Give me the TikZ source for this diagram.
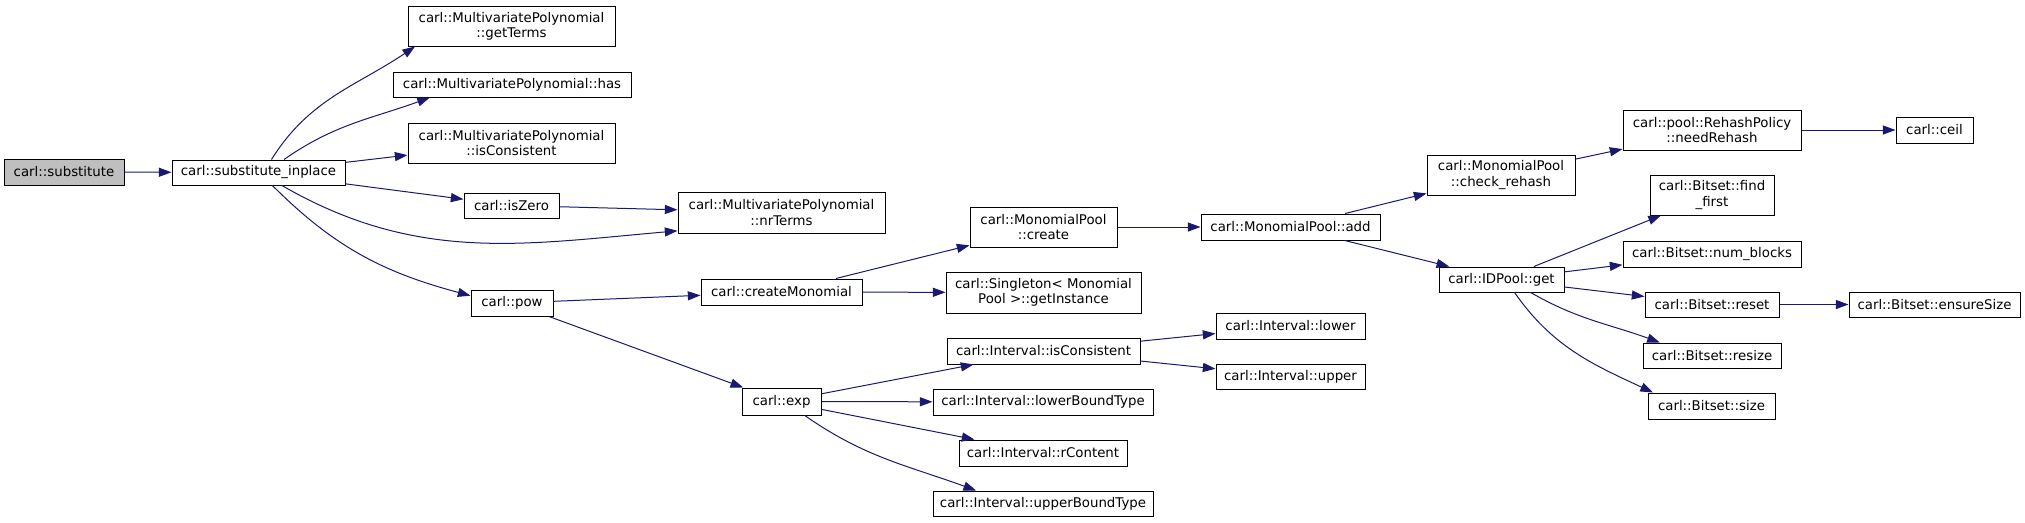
\documentclass[tikz,border=0pt]{standalone}
\usepackage{fontspec}
\setmainfont{DejaVu Sans}
\usetikzlibrary{arrows.meta}
\definecolor{edgeblue}{HTML}{191970}
\definecolor{graybox}{HTML}{BFBFBF}
\tikzset{
  box/.style={draw=black, fill=white, line width=0.75pt, inner sep=0pt, align=center,
    font=\fontsize{10}{11.5}\selectfont},
  call/.style={draw=edgeblue, line width=0.75pt, -{Triangle[length=9.5pt,width=6.8pt]}},
}
\newcommand\gbox[7][]{\node[box,#1,minimum width={(#4-#2)*0.75pt},minimum height={(#5-#3)*0.75pt}] (#6) at ({(#2+#4)/2},{(#3+#5)/2}) {#7};}
\begin{document}
\begin{tikzpicture}[x=0.75pt,y=-0.75pt]
\useasboundingbox (0,0) rectangle (2025,522);
\gbox[fill=graybox]{4}{159}{124}{185}{substitute}{carl::substitute}
\gbox{172}{160}{345}{185}{inplace}{carl::substitute\_inplace}
\gbox{408}{6}{615}{46}{getTerms}{carl::MultivariatePolynomial\\::getTerms}
\gbox{393}{72}{631}{97}{has}{carl::MultivariatePolynomial::has}
\gbox{408}{123}{615}{163}{mpcons}{carl::MultivariatePolynomial\\::isConsistent}
\gbox{464}{193}{559}{218}{isZero}{carl::isZero}
\gbox{678}{192}{885}{233}{nrTerms}{carl::MultivariatePolynomial\\::nrTerms}
\gbox{471}{290}{553}{316}{pow}{carl::pow}
\gbox{701}{279}{862}{305}{cm}{carl::createMonomial}
\gbox{970}{207}{1117}{247}{create}{carl::MonomialPool\\::create}
\gbox{946}{272}{1141}{313}{singleton}{carl::Singleton< Monomial\\Pool >::getInstance}
\gbox{1201}{214}{1380}{240}{add}{carl::MonomialPool::add}
\gbox{742}{388}{821}{415}{exp}{carl::exp}
\gbox{947}{338}{1140}{364}{ic}{carl::Interval::isConsistent}
\gbox{933}{389}{1153}{415}{lbt}{carl::Interval::lowerBoundType}
\gbox{959}{440}{1127}{466}{rc}{carl::Interval::rContent}
\gbox{933}{491}{1153}{516}{ubt}{carl::Interval::upperBoundType}
\gbox{1216}{313}{1365}{339}{lower}{carl::Interval::lower}
\gbox{1216}{364}{1365}{389}{upper}{carl::Interval::upper}
\gbox{1427}{155}{1575}{195}{cr}{carl::MonomialPool\\::check\_rehash}
\gbox{1623}{110}{1801}{150}{nr}{carl::pool::RehashPolicy\\::needRehash}
\gbox{1896}{117}{1973}{143}{ceil}{carl::ceil}
\gbox{1650}{175}{1774}{215}{ff}{carl::Bitset::find\\\_first}
\gbox{1623}{241}{1801}{267}{nb}{carl::Bitset::num\_blocks}
\gbox{1439}{267}{1564}{292}{get}{carl::IDPool::get}
\gbox{1645}{292}{1779}{317}{reset}{carl::Bitset::reset}
\gbox{1849}{292}{2020}{317}{ensure}{carl::Bitset::ensureSize}
\gbox{1643}{343}{1781}{368}{resize}{carl::Bitset::resize}
\gbox{1648}{393}{1775}{419}{size}{carl::Bitset::size}
% straight calls
\draw[call] (substitute) -- (inplace);
\draw[call] (inplace) -- (mpcons);
\draw[call] (inplace) -- (isZero);
\draw[call] (isZero) -- (nrTerms);
\draw[call] (pow) -- (cm);
\draw[call] (pow) -- (exp);
\draw[call] (cm) -- (create);
\draw[call] (cm) -- (singleton);
\draw[call] (create) -- (add);
\draw[call] (add) -- (cr);
\draw[call] (add) -- (get);
\draw[call] (cr) -- (nr);
\draw[call] (nr) -- (ceil);
\draw[call] (get) -- (ff);
\draw[call] (get) -- (nb);
\draw[call] (get) -- (reset);
\draw[call] (reset) -- (ensure);
\draw[call] (exp) -- (ic);
\draw[call] (exp) -- (lbt);
\draw[call] (exp) -- (rc);
\draw[call] (ic) -- (lower);
\draw[call] (ic) -- (upper);
% curved calls
\draw[call] (inplace.45) to[out=58,in=214] (getTerms.192);
\draw[call] (inplace.27) to[out=35,in=200] (has.189);
\draw[call] (inplace.-29) to[out=-30,in=185] (nrTerms.190);
\draw[call] (inplace.-43) to[out=-45,in=165] (pow.170);
\draw[call] (get.-24) to[out=-30,in=160] (resize.166);
\draw[call] (get.-45) to[out=-55,in=155] (size.167);
\draw[call] (exp.-31) to[out=-35,in=160] (ubt.169);
\end{tikzpicture}
\end{document}
